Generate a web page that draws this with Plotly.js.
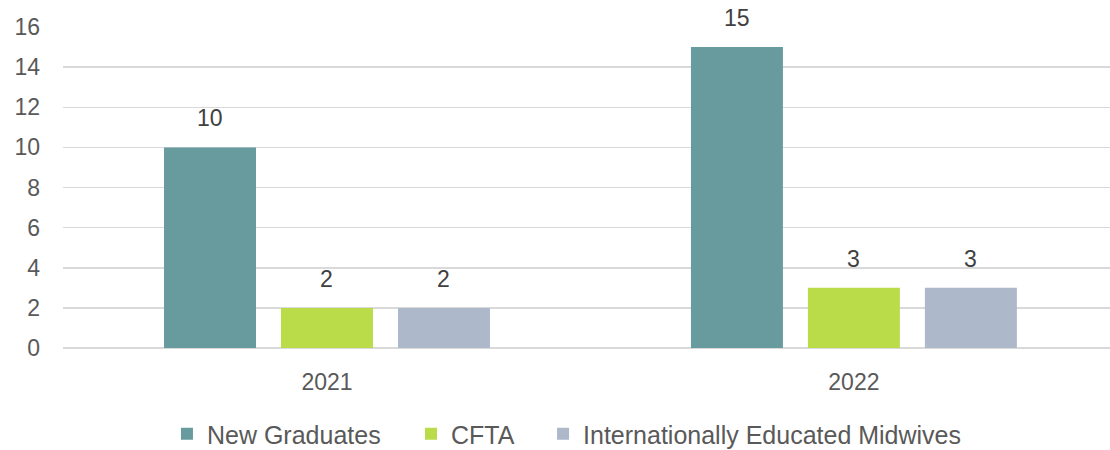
<!DOCTYPE html>
<html>
<head>
<meta charset="utf-8">
<script src="https://cdn.plot.ly/plotly-3.0.1.min.js"></script>
<style>html,body{margin:0;padding:0;background:#fff;}#chart{width:1110px;height:450px;}</style>
</head>
<body>
<div id="chart"></div>
<script>
const years = ["2021", "2022"];
const seriesNames = ["New Graduates", "CFTA", "Internationally Educated Midwives"];
const newGraduates = [10, 15];
const cfta = [2, 3];
const internationallyEducated = [2, 3];
const yTicks = [0, 2, 4, 6, 8, 10, 12, 14, 16];

const colors = ["#689B9E", "#BADC48", "#ADB9CB"];
const values = [newGraduates, cfta, internationallyEducated];
const legendIds = ["legend", "legend2", "legend3"];
const legendX = [0.0993, 0.3324, 0.4585];
const FONT = "Liberation Sans, Arial, sans-serif";

const traces = values.map((v, i) => ({
  type: "bar",
  name: seriesNames[i],
  x: years,
  y: v,
  marker: {color: colors[i]},
  legend: legendIds[i],
  hoverinfo: "skip"
}));

const annotations = [];
values.forEach((v, i) => {
  v.forEach((val, j) => {
    annotations.push({
      x: j, y: val, xref: "x", yref: "y",
      text: String(val), showarrow: false,
      xshift: (i - 1) * 117, yanchor: "bottom", yshift: 14,
      font: {family: FONT, size: 23, color: "#404040"}
    });
  });
});

const layout = {
  width: 1110, height: 450,
  margin: {l: 63, r: 0, t: 27, b: 102},
  paper_bgcolor: "#fff", plot_bgcolor: "#fff",
  barmode: "group",
  bargap: 0.334,
  bargroupgap: 0.2137,
  font: {family: FONT, size: 23, color: "#595959"},
  xaxis: {
    type: "category",
    range: [-0.501, 1.486],
    showgrid: false, zeroline: false, showline: false,
    ticks: "", ticklabelstandoff: 18,
    tickfont: {family: FONT, size: 23, color: "#595959"}
  },
  yaxis: {
    range: [0, 16],
    tickvals: yTicks,
    showgrid: true, gridcolor: "#d9d9d9", gridwidth: 1.5,
    zeroline: true, zerolinecolor: "#d9d9d9", zerolinewidth: 1.5,
    showline: false, ticks: "", ticklabelstandoff: 22,
    tickfont: {family: FONT, size: 23, color: "#595959"}
  },
  showlegend: true,
  annotations: annotations
};

legendIds.forEach((id, i) => {
  layout[id] = {
    orientation: "h", x: legendX[i], xanchor: "left",
    yref: "container", y: 16 / 450, yanchor: "middle",
    font: {family: FONT, size: 25, color: "#595959"},
    bgcolor: "rgba(0,0,0,0)", itemwidth: 30
  };
});

Plotly.newPlot("chart", traces, layout, {displayModeBar: false, staticPlot: true});
</script>
</body>
</html>
